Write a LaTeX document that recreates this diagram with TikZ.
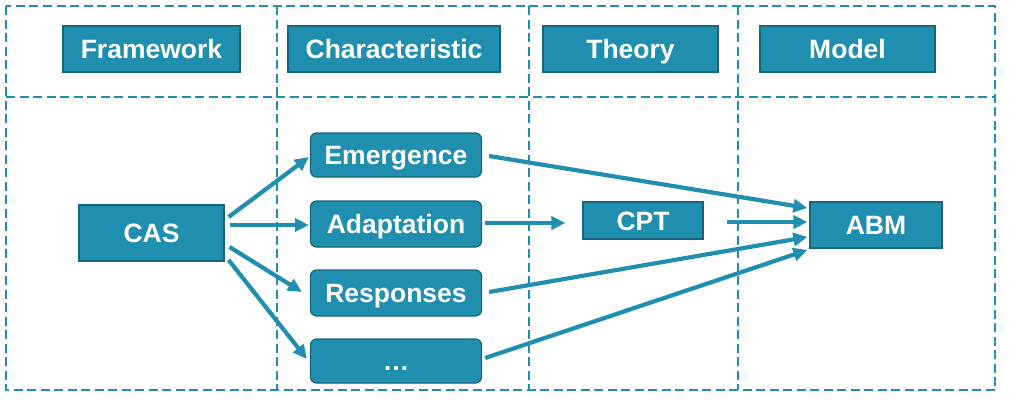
\documentclass[tikz,border=0pt]{standalone}
\usepackage{fontspec}
\setmainfont{Liberation Sans}
\usetikzlibrary{arrows.meta}
\definecolor{teal1}{HTML}{1F8EAF}
\definecolor{tealdark}{HTML}{16657E}
\begin{document}
\begin{tikzpicture}[x=1pt,y=-1pt,
  box/.style={draw=tealdark, line width=1.2pt, fill=teal1, text=white,
    font=\fontsize{26.5}{30}\selectfont\bfseries, inner sep=0pt, align=center,
    text height=19pt, text depth=0pt},
  rbox/.style={box, rounded corners=6pt},
  grid/.style={draw=teal1, line width=2.1pt, dash pattern=on 9pt off 4.5pt},
  arr/.style={draw=teal1, line width=4.2pt, -{Triangle[length=14pt,width=13pt]}}]
\useasboundingbox (0,0) rectangle (1012,407);
% dashed grid
\draw[grid] (6,6) rectangle (995,390);
\draw[grid] (6,97) -- (995,97);
\draw[grid] (277,6) -- (277,390);
\draw[grid] (529,6) -- (529,390);
\draw[grid] (738,6) -- (738,390);
% headers
\node[box, minimum width=177pt, minimum height=46pt] (fw) at (151.5,49) {Framework};
\node[box, minimum width=212pt, minimum height=46pt] (ch) at (394,49) {Characteristic};
\node[box, minimum width=175pt, minimum height=46pt] (th) at (630.5,49) {Theory};
\node[box, minimum width=175pt, minimum height=46pt] (mo) at (847.5,49) {Model};
% content
\node[box, minimum width=145pt, minimum height=56pt] (cas) at (151.5,233) {CAS};
\node[rbox, minimum width=171pt, minimum height=44pt] (em) at (396,155) {Emergence};
\node[rbox, minimum width=171pt, minimum height=46pt] (ad) at (396,224) {Adaptation};
\node[rbox, minimum width=171pt, minimum height=46pt] (re) at (396,293) {Responses};
\node[rbox, minimum width=171pt, minimum height=44pt] (dt) at (396,361) {…};
\node[box, minimum width=120pt, minimum height=37pt] (cpt) at (643,220.5) {CPT};
\node[box, minimum width=132pt, minimum height=46pt] (abm) at (876,225) {ABM};
% arrows
\draw[arr] ([shift={(4,-16)}]cas.east) -- ([shift={(-1,2)}]em.west);
\draw[arr] ([shift={(5,-8)}]cas.east) -- ([shift={(-1,1)}]ad.west);
\draw[arr] ([shift={(5,14)}]cas.east) -- ([shift={(-8,-1)}]re.west);
\draw[arr] ([shift={(4,27)}]cas.east) -- ([shift={(-3,-2)}]dt.west);
\draw[arr] ([shift={(7,1)}]em.east) -- ([shift={(-2,-17)}]abm.west);
\draw[arr] ([shift={(3,-1)}]ad.east) -- ([shift={(-17,2.5)}]cpt.west);
\draw[arr] ([shift={(23,1.5)}]cpt.east) -- ([shift={(-2,-3)}]abm.west);
\draw[arr] ([shift={(7,-1)}]re.east) -- ([shift={(-2,12)}]abm.west);
\draw[arr] ([shift={(3,-3)}]dt.east) -- ([shift={(-2,25)}]abm.west);
\end{tikzpicture}
\end{document}
